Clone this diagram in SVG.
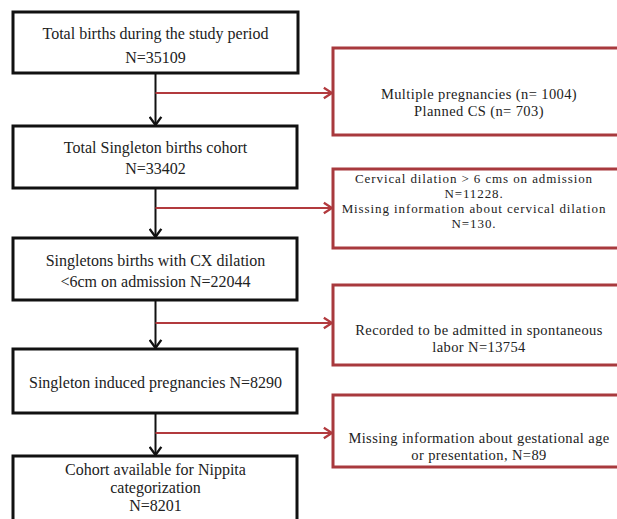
<svg xmlns="http://www.w3.org/2000/svg" width="617" height="519" viewBox="0 0 617 519">
<style>
.lb{fill:#fff;stroke:#111;stroke-width:3}
.rb{fill:#fff;stroke:#a8393d;stroke-width:3}
.t{font-family:"Liberation Serif","Times New Roman",serif;fill:#222;text-anchor:middle}
.tl{font-size:16px}
.tr{font-size:14.5px;letter-spacing:0.4px}
.ts{font-size:13px;letter-spacing:0.9px}
.bk{stroke:#111;stroke-width:2;fill:none}
.rd{stroke:#b23a3e;stroke-width:2.2;fill:none}
</style>
<defs>
<marker id="ab" markerUnits="userSpaceOnUse" markerWidth="14" markerHeight="14" refX="10" refY="6" orient="auto" viewBox="0 0 12 12">
<path d="M3,1 L10,6 L3,11" fill="none" stroke="#111" stroke-width="2"/>
</marker>
<marker id="ar" markerUnits="userSpaceOnUse" markerWidth="14" markerHeight="14" refX="10" refY="6" orient="auto" viewBox="0 0 12 12">
<path d="M3,1.5 L10,6 L3,10.5" fill="none" stroke="#b23a3e" stroke-width="2"/>
</marker>
</defs>
<rect width="617" height="519" fill="#fff"/>
<g id="connectors">
<line class="bk" x1="155.5" y1="73" x2="155.5" y2="125" marker-end="url(#ab)"/>
<line class="bk" x1="155.5" y1="188" x2="155.5" y2="237" marker-end="url(#ab)"/>
<line class="bk" x1="155.5" y1="300" x2="155.5" y2="348" marker-end="url(#ab)"/>
<line class="bk" x1="155.5" y1="413" x2="155.5" y2="455" marker-end="url(#ab)"/>
<line class="rd" x1="155.5" y1="93" x2="332" y2="93" marker-end="url(#ar)"/>
<line class="rd" x1="155.5" y1="208" x2="332" y2="208" marker-end="url(#ar)"/>
<line class="rd" x1="155.5" y1="323" x2="332" y2="323" marker-end="url(#ar)"/>
<line class="rd" x1="155.5" y1="433" x2="332" y2="433" marker-end="url(#ar)"/>
</g>
<g id="n1">
<rect class="lb" x="13" y="12" width="285" height="61"/>
<text class="t tl" x="155.5" y="39">Total births during the study period</text>
<text class="t tl" x="155.5" y="63">N=35109</text>
</g>
<g id="n2">
<rect class="lb" x="13" y="126" width="284" height="62"/>
<text class="t tl" x="155.5" y="153">Total Singleton births cohort</text>
<text class="t tl" x="155.5" y="174">N=33402</text>
</g>
<g id="n3">
<rect class="lb" x="13" y="238" width="284" height="62"/>
<text class="t tl" x="155.5" y="266">Singletons births with CX dilation</text>
<text class="t tl" x="155.5" y="287">&lt;6cm on admission N=22044</text>
</g>
<g id="n4">
<rect class="lb" x="13" y="349" width="284" height="64"/>
<text class="t tl" x="155.5" y="388">Singleton induced pregnancies N=8290</text>
</g>
<g id="n5">
<rect class="lb" x="13" y="456" width="284" height="72"/>
<text class="t tl" x="155.5" y="475">Cohort available for Nippita</text>
<text class="t tl" x="155.5" y="493">categorization</text>
<text class="t tl" x="155.5" y="511">N=8201</text>
</g>
<g id="r1">
<rect class="rb" x="333" y="48" width="292" height="87"/>
<text class="t tr" x="479" y="99">Multiple pregnancies (n= 1004)</text>
<text class="t tr" x="479" y="116">Planned CS (n= 703)</text>
</g>
<g id="r2">
<rect class="rb" x="333" y="169" width="292" height="79"/>
<text class="t ts" x="474" y="183">Cervical dilation &gt; 6 cms on admission</text>
<text class="t ts" x="474" y="198">N=11228.</text>
<text class="t ts" x="474" y="213">Missing information about cervical dilation</text>
<text class="t ts" x="474" y="228">N=130.</text>
</g>
<g id="r3">
<rect class="rb" x="333" y="285" width="292" height="80"/>
<text class="t tr" x="479" y="335">Recorded to be admitted in spontaneous</text>
<text class="t tr" x="479" y="352">labor N=13754</text>
</g>
<g id="r4">
<rect class="rb" x="333" y="395" width="292" height="72"/>
<text class="t tr" x="479" y="443">Missing information about gestational age</text>
<text class="t tr" x="479" y="460">or presentation, N=89</text>
</g>
</svg>
